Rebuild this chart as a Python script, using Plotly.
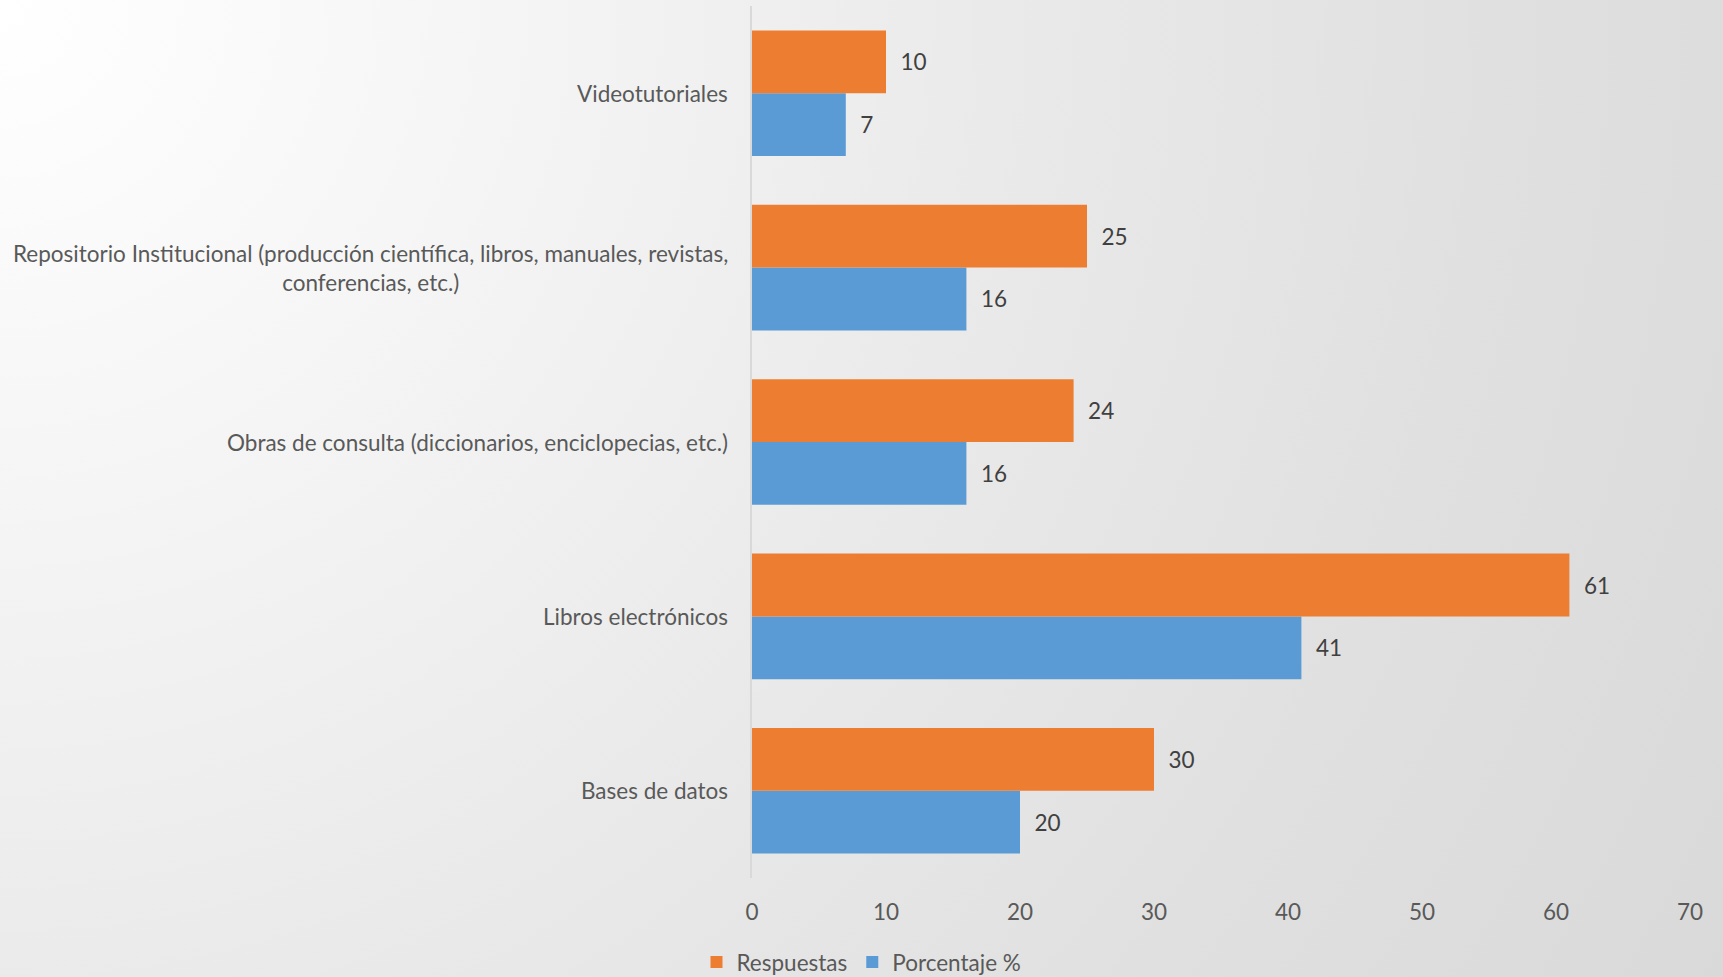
import base64
import plotly.graph_objects as go

# Categories listed bottom-to-top as they appear on the vertical axis
categories = [
    "Bases de datos",
    "Libros electrónicos",
    "Obras de consulta (diccionarios, enciclopecias, etc.)",
    "Repositorio Institucional (producción científica, libros, manuales, revistas,<br>conferencias, etc.)",
    "Videotutoriales",
]
respuestas = [30, 61, 24, 25, 10]
porcentaje = [20, 41, 16, 16, 7]
x_ticks = [0, 10, 20, 30, 40, 50, 60, 70]

FONT = "Lato"
ORANGE = "#ED7D31"
BLUE = "#5B9BD5"
LABEL_SIZE = 22.5

W, H = 1723, 977
ML, MR, MT, MB = 752, 33, 6, 99
PW, PH = W - ML - MR, H - MT - MB

fig = go.Figure()
fig.add_trace(go.Bar(
    y=categories, x=porcentaje, name="Porcentaje %", orientation="h",
    marker=dict(color=BLUE, line=dict(width=0)),
    texttemplate="  %{x}", textposition="outside",
    textfont=dict(family=FONT, size=LABEL_SIZE, color="#404040"),
    cliponaxis=False, legendrank=2,
))
fig.add_trace(go.Bar(
    y=categories, x=respuestas, name="Respuestas", orientation="h",
    marker=dict(color=ORANGE, line=dict(width=0)),
    texttemplate="  %{x}", textposition="outside",
    textfont=dict(family=FONT, size=LABEL_SIZE, color="#404040"),
    cliponaxis=False, legendrank=1,
))

# Category labels as centred multi-line annotations left of the axis
for cat in categories:
    fig.add_annotation(
        x=0, xref="paper", y=cat, yref="y",
        xanchor="right", yanchor="middle", xshift=-22,
        text=cat, showarrow=False, align="center",
        font=dict(family=FONT, size=LABEL_SIZE, color="#595959"),
    )

# Soft grey gradient background running from the top-left corner
svg = f'''<svg xmlns="http://www.w3.org/2000/svg" width="{W}" height="{H}" viewBox="0 0 {W} {H}" preserveAspectRatio="none">
<defs><radialGradient id="g" gradientUnits="userSpaceOnUse" cx="0" cy="0" r="1990">
<stop offset="0" stop-color="#FFFFFF"/>
<stop offset="0.25" stop-color="#F5F5F5"/>
<stop offset="0.5" stop-color="#EAEAEA"/>
<stop offset="0.75" stop-color="#E0E0E0"/>
<stop offset="1" stop-color="#D9D9D9"/>
</radialGradient></defs>
<rect width="{W}" height="{H}" fill="url(#g)"/></svg>'''
uri = "data:image/svg+xml;base64," + base64.b64encode(svg.encode()).decode()
fig.add_layout_image(
    source=uri, xref="paper", yref="paper",
    x=-ML / PW, y=1 + MT / PH, sizex=W / PW, sizey=H / PH,
    xanchor="left", yanchor="top", sizing="stretch", layer="below",
)

fig.update_layout(
    width=W, height=H,
    margin=dict(l=ML, r=MR, t=MT, b=MB),
    paper_bgcolor="#FFFFFF", plot_bgcolor="rgba(0,0,0,0)",
    barmode="group", bargap=0.28, bargroupgap=0,
    font=dict(family=FONT, size=LABEL_SIZE, color="#595959"),
    showlegend=True,
    legend=dict(
        orientation="h", xref="container", yref="container",
        x=0.5, xanchor="center", y=0.015, yanchor="middle",
        font=dict(family=FONT, size=LABEL_SIZE, color="#595959"),
        bgcolor="rgba(0,0,0,0)", itemwidth=30,
    ),
    xaxis=dict(
        range=[0, 70], tickvals=x_ticks, showgrid=False, zeroline=False,
        showline=False, ticks="outside", ticklen=14,
        tickcolor="rgba(0,0,0,0)",
        tickfont=dict(family=FONT, size=LABEL_SIZE, color="#595959"),
    ),
    yaxis=dict(
        type="category", categoryorder="array", categoryarray=categories,
        range=[-0.5, 4.5], showticklabels=False, showgrid=False,
        showline=True, linecolor="#D9D9D9", linewidth=2, zeroline=False,
    ),
)

fig.write_html("out.html")
